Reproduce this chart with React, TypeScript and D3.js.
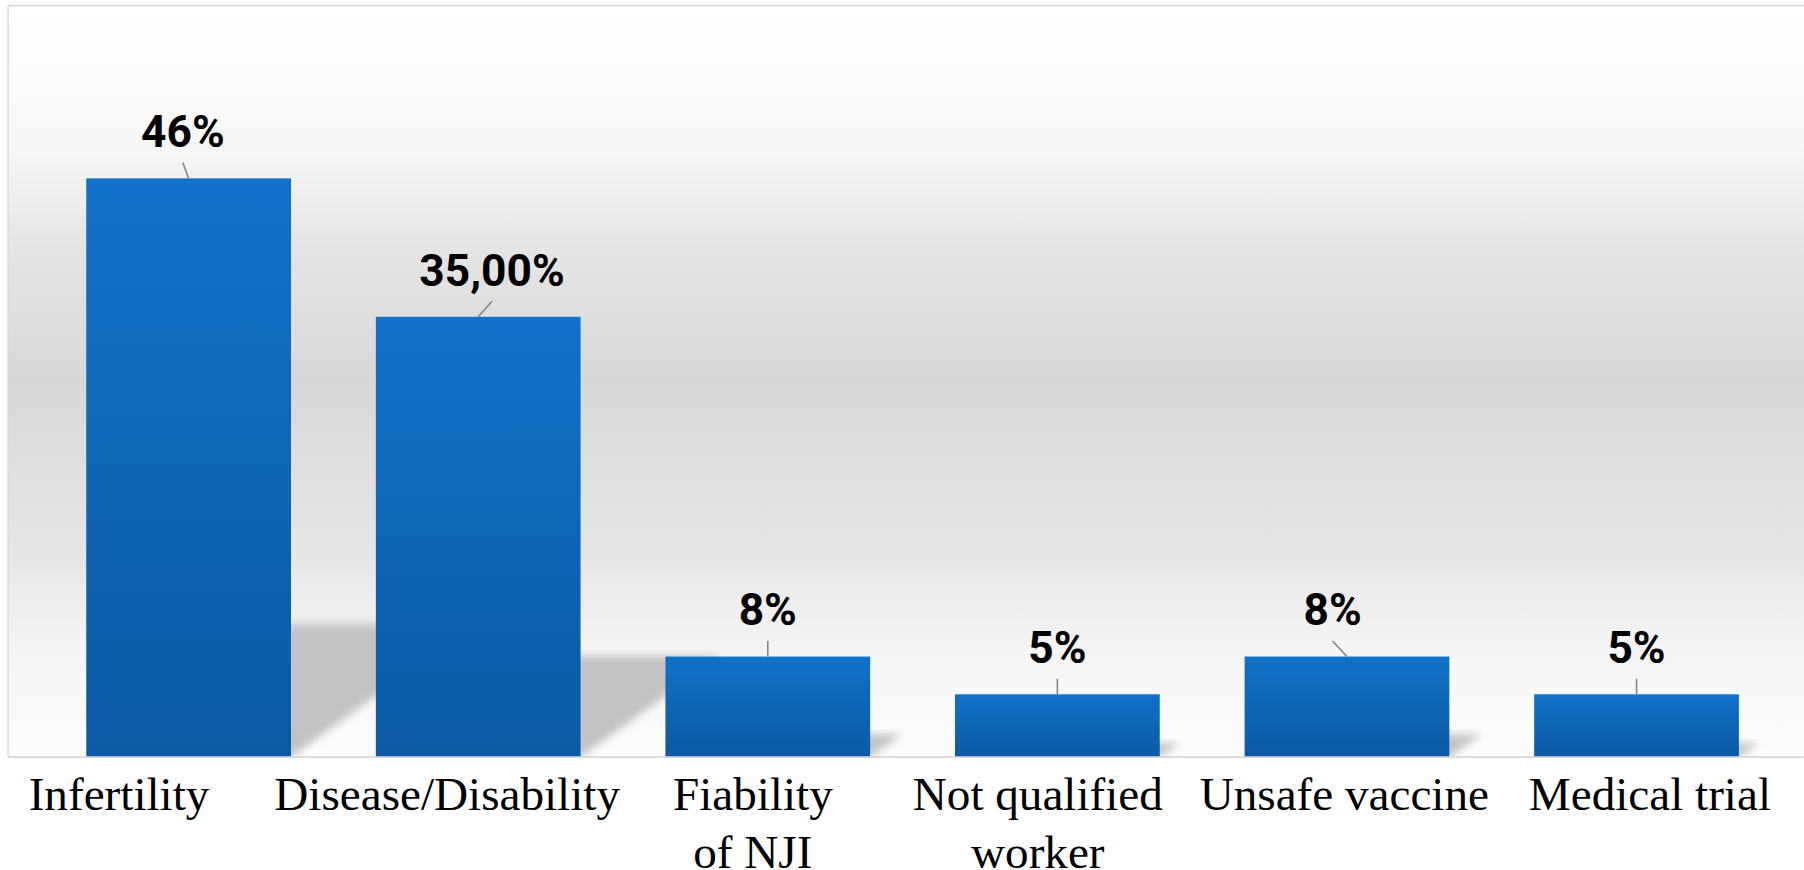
import React from 'react';
import * as d3 from 'd3';

// ---- data ----
const categories = [
  'Infertility',
  'Disease/Disability',
  'Fiability of NJI',
  'Not qualified worker',
  'Unsafe vaccine',
  'Medical trial',
];
const tickLines = [
  ['Infertility'],
  ['Disease/Disability'],
  ['Fiability', 'of NJI'],
  ['Not qualified', 'worker'],
  ['Unsafe vaccine'],
  ['Medical trial'],
];
const values = [46, 35, 8, 5, 8, 5];
const valueLabels = ['46%', '35,00%', '8%', '5%', '8%', '5%'];

// ---- layout (view units; scaled to 1804x870) ----
const VW = 1568;
const VH = 756;
const plotLeft = 7;
const plotTop = 5;
const plotRight = VW;
const base = 658;
const labelNudge = [-5, 12, 0, 0, -12.5, 0];
const tickNudge = [-60.5, -27, -13, -17, -2.3, 11.6];

export default function App() {
  const x = d3
    .scaleBand<string>()
    .domain(categories)
    .range([38.1, 1548.3])
    .paddingInner(0.293)
    .paddingOuter(0.1465);
  const y = d3.scaleLinear().domain([0, d3.max(values) as number]).range([base, 155]);
  const bw = x.bandwidth();

  const shadowPath = (i: number) => {
    const x0 = x(categories[i]) as number;
    const x1 = x0 + bw;
    const h = base - y(values[i]);
    const sh = 0.23 * h;
    const d = 1.385 * sh;
    const p = d3.path();
    p.moveTo(x0, base);
    p.lineTo(x1, base);
    p.lineTo(x1 + d, base - sh);
    p.lineTo(x0 + d, base - sh);
    p.closePath();
    return p.toString();
  };

  return (
    <svg
      width={1804}
      height={870}
      viewBox={`0 0 ${VW} ${VH}`}
      preserveAspectRatio="none"
      style={{ position: 'absolute', left: 0, top: 0, display: 'block', background: '#fff' }}
    >
      <defs>
        <linearGradient id="bgGrad" gradientUnits="userSpaceOnUse" x1={0} y1={plotTop} x2={0} y2={base}>
          <stop offset="0" stopColor="#ffffff" />
          <stop offset="0.072" stopColor="#fdfdfd" />
          <stop offset="0.19" stopColor="#f7f7f7" />
          <stop offset="0.325" stopColor="#e5e5e5" />
          <stop offset="0.5" stopColor="#d8d8d8" />
          <stop offset="0.725" stopColor="#e6e6e6" />
          <stop offset="0.86" stopColor="#f5f5f5" />
          <stop offset="1" stopColor="#fdfdfd" />
        </linearGradient>
        <linearGradient id="barGrad" x1="0" y1="0" x2="0" y2="1">
          <stop offset="0" stopColor="#1171c8" />
          <stop offset="1" stopColor="#0b5aa4" />
        </linearGradient>
        <filter id="shadowBlur" x="-20%" y="-20%" width="140%" height="140%">
          <feGaussianBlur stdDeviation="3.5" />
        </filter>
        <clipPath id="plotClip">
          <rect x={plotLeft} y={plotTop} width={plotRight - plotLeft} height={base - plotTop} />
        </clipPath>
      </defs>

      <rect x={plotLeft} y={plotTop} width={plotRight - plotLeft} height={base - plotTop} fill="url(#bgGrad)" />

      <g clipPath="url(#plotClip)">
        {values.map((v, i) => (
          <path key={'s' + i} d={shadowPath(i)} fill="#c3c3c3" filter="url(#shadowBlur)" />
        ))}
      </g>

      {values.map((v, i) => (
        <rect
          key={'b' + i}
          x={x(categories[i])}
          y={y(v)}
          width={bw}
          height={base - y(v)}
          fill="url(#barGrad)"
        />
      ))}

      {/* axis & border */}
      <line x1={plotLeft} x2={plotRight} y1={base} y2={base} stroke="#d9d9d9" strokeWidth={1.5} />
      <line x1={plotLeft} x2={plotRight} y1={plotTop} y2={plotTop} stroke="#d9d9d9" strokeWidth={1.3} />
      <line x1={plotLeft} x2={plotLeft} y1={plotTop} y2={base} stroke="#d9d9d9" strokeWidth={1.3} />

      {/* leader lines and value labels */}
      {values.map((v, i) => {
        const cx = (x(categories[i]) as number) + bw / 2;
        const top = y(v);
        const lx = cx + labelNudge[i];
        return (
          <g key={'l' + i}>
            <line x1={lx} y1={top - 13.5} x2={cx} y2={top} stroke="#808080" strokeWidth={1.3} />
            <text
              x={lx}
              y={top - 27}
              textAnchor="middle"
              fontFamily="Roboto, 'Noto Sans', sans-serif"
              fontWeight={700}
              fontSize={38.5}
              fill="#000"
            >
              {valueLabels[i]}
            </text>
          </g>
        );
      })}

      {/* category labels */}
      {tickLines.map((lines, i) => {
        const cx = (x(categories[i]) as number) + bw / 2 + tickNudge[i];
        return (
          <text
            key={'t' + i}
            x={cx}
            y={703.5}
            textAnchor="middle"
            fontFamily="'Liberation Serif', 'Times New Roman', serif"
            fontSize={41}
            fill="#000"
          >
            {lines.map((ln, j) => (
              <tspan key={j} x={cx} dy={j === 0 ? 0 : 51}>
                {ln}
              </tspan>
            ))}
          </text>
        );
      })}
    </svg>
  );
}
